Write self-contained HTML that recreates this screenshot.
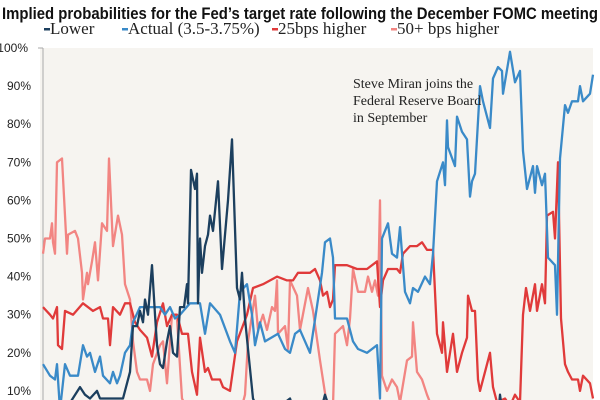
<!DOCTYPE html>
<html><head><meta charset="utf-8"><style>
html,body{margin:0;padding:0;background:#fff;overflow:hidden;}
svg{display:block;}
</style></head><body>
<svg id="chart" width="600" height="400" viewBox="0 0 600 400">
<defs><clipPath id="plotclip"><rect x="40" y="40" width="556" height="360"/></clipPath></defs>
<text x="2" y="19" font-family="Liberation Sans, sans-serif" font-weight="bold" font-size="16.5" fill="#111" textLength="596" lengthAdjust="spacingAndGlyphs">Implied probabilities for the Fed’s target rate following the December FOMC meeting</text>
<g font-family="Liberation Serif, serif" font-size="17" fill="#222">
<g><rect x="44" y="28" width="6" height="2.5" fill="#1c3f5e"/><text x="50" y="34">Lower</text></g>
<g><rect x="122" y="28" width="6" height="2.5" fill="#3a8ac8"/><text x="128" y="34">Actual (3.5-3.75%)</text></g>
<g><rect x="272" y="28" width="6" height="2.5" fill="#e03a3a"/><text x="278" y="34">25bps higher</text></g>
<g><rect x="391" y="28" width="6" height="2.5" fill="#f28582"/><text x="397" y="34">50+ bps higher</text></g>
</g>
<rect x="40" y="48" width="553" height="352" fill="#f6f4f0"/>
<line x1="43" y1="48" x2="43" y2="400" stroke="#aaa" stroke-width="1"/>
<g id="yticks" font-family="Liberation Sans, sans-serif" font-size="12" fill="#222" text-anchor="end"></g>
<g id="series" clip-path="url(#plotclip)"></g>
<g font-family="Liberation Serif, serif" font-size="14" fill="#222">
<text x="353" y="88">Steve Miran joins the</text>
<text x="353" y="105">Federal Reserve Board</text>
<text x="353" y="122">in September</text>
</g>
</svg>
<script>
const yTicks = [10,20,30,40,50,60,70,80,90,100];
const yTickLabels = ["10%","20%","30%","40%","50%","60%","70%","80%","90%","100%"];

// day index (43..593) and probability (%)
const lowerT = [43,63,80,85,90,97,100,123,130,133,137,140,143,145,148,152,155,157,160,163,167,170,173,177,180,184,187,188,191,195,197,198,200,202,205,208,210,213,218,222,223,228,232,237,240,242,245,248,253,258,270,290,295,320,325,330,360,420,498,500,503,593];
const lowerV = [2,4,11,9,8,10,8,8,15,27,27,31,28,34,30,43,30,22,17,16,23,27,20,19,32,32,38,33,68,63,67,33,50,41,48,51,56,52,65,42,45,60,76,37,34,41,29,21,8,5,4,8,4,4,9,5,3,4,3,9,3,3];

const actualT = [43,50,55,57,60,65,70,78,83,87,90,95,100,103,110,113,117,120,125,130,133,140,150,160,165,170,175,180,190,200,205,210,220,230,235,240,247,252,255,260,265,278,285,290,295,300,310,322,325,330,333,335,342,347,353,358,367,377,380,382,388,392,397,400,405,410,413,418,425,430,433,437,443,445,447,448,455,457,462,467,470,472,475,480,483,490,493,498,502,503,510,515,520,523,527,533,535,537,542,545,548,555,557,560,565,568,572,578,580,583,590,593];
const actualV = [17,14,13,17,5,17,14,14,22,19,20,15,19,14,12,15,12,14,20,22,28,32,32,32,30,32,29,30,33,33,25,33,30,23,20,36,38,30,22,28,23,25,21,20,25,26,20,41,49,50,45,29,29,29,23,21,20,22,8,50,54,46,45,53,36,33,37,36,40,38,46,65,70,64,81,74,69,82,78,76,61,65,67,90,86,79,92,95,94,88,99,91,94,73,63,69,62,69,64,67,45,43,30,71,85,83,86,86,90,86,88,93];

const higher25T = [43,50,53,57,58,62,65,73,83,93,100,103,108,110,113,120,125,130,135,140,147,152,157,163,167,172,177,182,188,192,197,200,205,208,212,220,223,230,237,247,253,263,277,287,293,298,310,315,320,323,327,330,333,335,347,357,367,377,380,383,388,397,400,403,410,417,422,427,433,437,442,443,447,453,457,462,467,468,472,475,478,480,485,490,493,497,505,510,515,520,523,526,530,535,537,542,545,547,553,555,558,561,565,568,572,578,580,583,590,593];
const higher25V = [32,30,29,32,22,21,31,30,33,31,32,29,29,22,32,30,33,33,28,26,24,19,28,33,27,30,30,25,25,15,9,24,15,16,13,13,11,10,23,30,37,38,40,39,39,41,41,42,39,35,36,32,34,43,43,42,42,44,32,39,42,42,41,46,48,48,49,47,47,25,20,28,15,25,15,20,24,35,31,31,13,10,15,20,11,7,8,6,9,7,30,37,31,38,31,38,33,56,57,50,70,29,17,15,13,13,10,14,12,8];

const higher50T = [43,45,50,52,53,55,57,62,67,68,75,78,82,83,87,88,92,95,98,102,107,109,113,118,122,125,130,133,137,140,147,150,153,160,163,167,172,177,182,190,240,245,248,255,258,263,267,272,275,277,278,285,288,290,297,300,308,313,320,327,333,335,343,347,350,353,358,365,368,372,375,378,380,382,387,392,397,400,407,412,413,417,422,427,433,440,593];
const higher50V = [46,50,50,54,49,46,70,71,46,51,52,50,41,34,41,38,44,49,39,54,52,71,48,56,51,38,34,23,15,13,13,10,17,22,23,12,30,29,8,4,4,9,23,35,26,30,26,32,31,39,25,27,21,39,35,26,37,31,18,6,6,25,27,22,29,42,36,36,40,36,39,35,60,14,10,13,11,7,18,19,28,15,13,9,5,3,3];

const X0 = 43, X1 = 593, T0 = 43, T1 = 593;
function xScale(t){ return X0 + (t - T0) * (X1 - X0) / (T1 - T0); }
function yScale(v){ return 429 - v * 3.81; }

const NS = "http://www.w3.org/2000/svg";
const tickG = document.getElementById('yticks');
yTicks.forEach((v, i) => {
  const t = document.createElementNS(NS, 'text');
  t.setAttribute('x', v === 100 ? 28 : 31);
  t.setAttribute('y', yScale(v) + 4);
  t.textContent = yTickLabels[i];
  
  
  tickG.appendChild(t);
});
const tk = document.createElementNS(NS, 'line');
tk.setAttribute('x1', 38); tk.setAttribute('x2', 43);
tk.setAttribute('y1', yScale(100)); tk.setAttribute('y2', yScale(100));
tk.setAttribute('stroke', '#aaa');


tickG.appendChild(tk);

const seriesG = document.getElementById('series');
function drawLine(ts, vs, color, name){
  const d = ts.map((t, i) => (i ? 'L' : 'M') + xScale(t).toFixed(1) + ',' + yScale(vs[i]).toFixed(1)).join(' ');
  const p = document.createElementNS(NS, 'path');
  p.setAttribute('d', d);
  p.setAttribute('fill', 'none');
  p.setAttribute('stroke', color);
  p.setAttribute('stroke-width', '2.3');
  p.setAttribute('stroke-linejoin', 'round');
  
  
  seriesG.appendChild(p);
}
drawLine(higher50T, higher50V, '#f28582', 'line-50bps-higher');
drawLine(higher25T, higher25V, '#e03a3a', 'line-25bps-higher');
drawLine(actualT, actualV, '#3a8ac8', 'line-actual');
drawLine(lowerT, lowerV, '#1c3f5e', 'line-lower');
</script>
</body></html>
